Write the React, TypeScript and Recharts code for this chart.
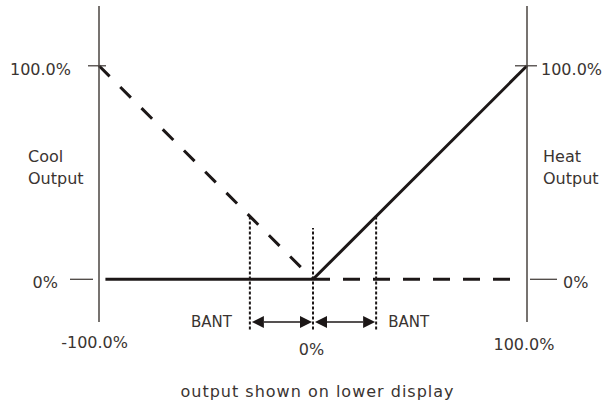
import { ComposedChart, Line, XAxis, YAxis, ReferenceLine } from "recharts";

// axis ticks and their labels
const xTicks = [-100, 0, 100];
const xTickLabels = ["-100.0%", "0%", "100.0%"];
const yTicks = [0, 100];
const yTickLabels = ["0%", "100.0%"];

// output curves (x = PV deviation %, y = output %)
const coolRamp = [{ x: -100, y: 100 }, { x: 0, y: 0 }];
const heatRamp = [{ x: 0, y: 0 }, { x: 100, y: 100 }];
const coolIdle = [{ x: -97, y: 0 }, { x: 0, y: 0 }];
const heatIdle = [{ x: 0, y: 0 }, { x: 93, y: 0 }];

// BANT markers
const bant = 29.5;
const guideBottom = -23.5;
const centerGuideTop = 24;
const arrowLevel = -20;

const INK = "#1c1717";
const TEXT = "#3a3431";
const AXIS = "#4a4441";
const FONT = "DejaVu Sans";

const LeftTick = (props: any) => {
  const { x, y, payload } = props;
  const label = yTickLabels[yTicks.indexOf(payload.value)];
  const top = payload.value === 100;
  return (
    <g>
      <line x1={top ? x - 11 : x - 29} x2={top ? x + 7 : x - 6} y1={y} y2={y} stroke={AXIS} strokeWidth={1.3} />
      <text x={top ? x - 28 : x - 41} y={y + 9} textAnchor="end" fill={TEXT} fontSize={16} fontFamily={FONT}>
        {label}
      </text>
    </g>
  );
};

const RightTick = (props: any) => {
  const { x, y, payload } = props;
  const label = yTickLabels[yTicks.indexOf(payload.value)];
  const top = payload.value === 100;
  return (
    <g>
      <line x1={top ? x - 12 : x + 3} x2={top ? x + 10 : x + 30} y1={y} y2={y} stroke={AXIS} strokeWidth={1.3} />
      <text x={top ? x + 14 : x + 36} y={y + 9} textAnchor="start" fill={TEXT} fontSize={16} fontFamily={FONT}>
        {label}
      </text>
    </g>
  );
};

const BottomTick = (props: any) => {
  const { x, y, payload } = props;
  const i = xTicks.indexOf(payload.value);
  const label = xTickLabels[i];
  if (payload.value < 0) {
    return (
      <text x={x + 29} y={y + 26} textAnchor="end" fill={TEXT} fontSize={16} fontFamily={FONT}>
        {label}
      </text>
    );
  }
  return (
    <text x={payload.value === 0 ? x - 1.5 : x - 3} y={payload.value === 0 ? y + 33 : y + 27.5} textAnchor="middle" fill={TEXT} fontSize={16} fontFamily={FONT}>
      {label}
    </text>
  );
};

const SideLabel = (first: string, second: string, dx: number) => (props: any) => {
  const { viewBox } = props;
  const x = viewBox.x + dx;
  return (
    <text fill={TEXT} fontSize={16} fontFamily={FONT}>
      <tspan x={x} y={viewBox.y + 156}>{first}</tspan>
      <tspan x={x} y={viewBox.y + 178}>{second}</tspan>
    </text>
  );
};

const TitleLabel = (props: any) => {
  const { viewBox } = props;
  return (
    <text x={viewBox.x + viewBox.width / 2 + 4.5} y={viewBox.y + 75} textAnchor="middle" fill={TEXT} fontSize={16} fontFamily={FONT} letterSpacing={1}>
      output shown on lower display
    </text>
  );
};

const BantText = (text: string, side: "left" | "right") => (props: any) => {
  const { viewBox } = props;
  const x = side === "left" ? viewBox.x - 18 : viewBox.x + 12;
  return (
    <text x={x} y={viewBox.y + viewBox.height - 2} textAnchor={side === "left" ? "end" : "start"} fill={TEXT} fontSize={15} fontFamily={FONT}>
      {text}
    </text>
  );
};

const DoubleArrow = (props: any) => {
  const { x1, y1, x2 } = props;
  const a = Math.min(x1, x2) + 2;
  const b = Math.max(x1, x2) - 1;
  const head = 12;
  const half = 6;
  return (
    <g>
      <line x1={a + head} x2={b - head} y1={y1} y2={y1} stroke={INK} strokeWidth={1.5} />
      <polygon points={`${a},${y1} ${a + head},${y1 - half} ${a + head},${y1 + half}`} fill={INK} />
      <polygon points={`${b},${y1} ${b - head},${y1 - half} ${b - head},${y1 + half}`} fill={INK} />
    </g>
  );
};

export default function App() {
  return (
    <div style={{ position: "absolute", left: 0, top: 0, width: 602, height: 412, background: "#fff" }}>
      <ComposedChart width={602} height={412} margin={{ top: 6, right: 0, bottom: 0, left: 0 }}>
        <XAxis
          type="number"
          dataKey="x"
          domain={[-100, 100]}
          ticks={xTicks}
          interval={0}
          height={90}
          axisLine={false}
          tickLine={false}
          tickSize={0}
          tickMargin={0}
          tick={BottomTick}
          label={TitleLabel}
        />
        <YAxis
          yAxisId="left"
          type="number"
          domain={[-20, 128]}
          ticks={yTicks}
          interval={0}
          width={99}
          axisLine={{ stroke: AXIS, strokeWidth: 1.5 }}
          tickLine={false}
          tickSize={0}
          tickMargin={0}
          tick={LeftTick}
          label={SideLabel("Cool", "Output", 28)}
        />
        <YAxis
          yAxisId="right"
          orientation="right"
          type="number"
          domain={[-20, 128]}
          ticks={yTicks}
          interval={0}
          width={75}
          axisLine={{ stroke: AXIS, strokeWidth: 1.5 }}
          tickLine={false}
          tickSize={0}
          tickMargin={0}
          tick={RightTick}
          label={SideLabel("Heat", "Output", 16)}
        />

        <ReferenceLine
          yAxisId="left"
          segment={[{ x: -bant, y: guideBottom }, { x: -bant, y: bant }]}
          stroke={INK}
          strokeWidth={2}
          strokeDasharray="3 2"
          ifOverflow="visible"
          label={BantText("BANT", "left")}
        />
        <ReferenceLine
          yAxisId="left"
          segment={[{ x: 0, y: guideBottom }, { x: 0, y: centerGuideTop }]}
          stroke={INK}
          strokeWidth={2}
          strokeDasharray="3 2"
          ifOverflow="visible"
        />
        <ReferenceLine
          yAxisId="left"
          segment={[{ x: bant, y: guideBottom }, { x: bant, y: bant }]}
          stroke={INK}
          strokeWidth={2}
          strokeDasharray="3 2"
          ifOverflow="visible"
          label={BantText("BANT", "right")}
        />
        <ReferenceLine
          yAxisId="left"
          segment={[{ x: -bant, y: arrowLevel }, { x: 0, y: arrowLevel }]}
          ifOverflow="visible"
          shape={DoubleArrow}
        />
        <ReferenceLine
          yAxisId="left"
          segment={[{ x: 0, y: arrowLevel }, { x: bant, y: arrowLevel }]}
          ifOverflow="visible"
          shape={DoubleArrow}
        />

        <Line yAxisId="left" data={coolIdle} dataKey="y" type="linear" stroke={INK} strokeWidth={3} dot={false} isAnimationActive={false} />
        <Line yAxisId="right" data={heatIdle} dataKey="y" type="linear" stroke={INK} strokeWidth={3} strokeDasharray="17 13" dot={false} isAnimationActive={false} />
        <Line yAxisId="left" data={coolRamp} dataKey="y" type="linear" stroke={INK} strokeWidth={3} strokeDasharray="15 15" dot={false} isAnimationActive={false} />
        <Line yAxisId="right" data={heatRamp} dataKey="y" type="linear" stroke={INK} strokeWidth={3} dot={false} isAnimationActive={false} />
      </ComposedChart>
    </div>
  );
}
